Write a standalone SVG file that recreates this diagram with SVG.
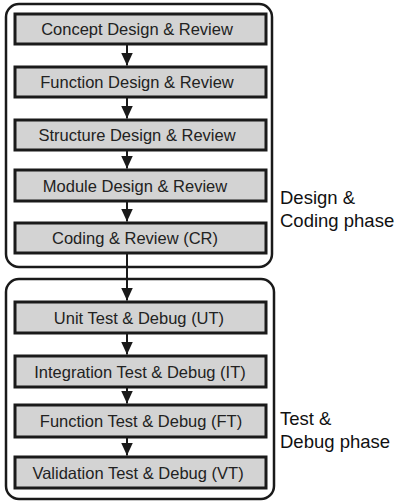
<svg xmlns="http://www.w3.org/2000/svg" width="399" height="504" viewBox="0 0 399 504">
<style>
.grp{fill:#fff;stroke:#1a1a1a;stroke-width:2.5}
.box{fill:#d3d3d3;stroke:#1a1a1a;stroke-width:3}
.t{font-family:"Liberation Sans",Arial,sans-serif;font-size:16.5px;fill:#222;text-anchor:middle}
.lbl{font-family:"Liberation Sans",Arial,sans-serif;font-size:18.5px;fill:#111}
.c{stroke:#1a1a1a;stroke-width:2;fill:none;marker-end:url(#ah)}
</style>
<defs>
<marker id="ah" markerWidth="14" markerHeight="12" refX="13" refY="6" orient="auto" markerUnits="userSpaceOnUse">
<path d="M0,0 L13,6 L0,12 Z" fill="#1a1a1a"/>
</marker>
</defs>
<g id="phase-design"><rect class="grp" x="6" y="4" width="266" height="263" rx="13"/><text class="lbl" x="280" y="204">Design &amp;</text><text class="lbl" x="280" y="227">Coding phase</text></g>
<g id="phase-test"><rect class="grp" x="6" y="279" width="268" height="220" rx="13"/><text class="lbl" x="280" y="425">Test &amp;</text><text class="lbl" x="280" y="448">Debug phase</text></g>
<g id="connectors">
<line class="c" x1="127" y1="45" x2="127" y2="65.5"/>
<line class="c" x1="127" y1="98" x2="127" y2="118.5"/>
<line class="c" x1="127" y1="151" x2="127" y2="168.5"/>
<line class="c" x1="127" y1="202" x2="127" y2="221.5"/>
<line class="c" x1="127" y1="254" x2="127" y2="300.5"/>
<line class="c" x1="127" y1="334" x2="127" y2="354.5"/>
<line class="c" x1="127" y1="388" x2="127" y2="403.5"/>
<line class="c" x1="127" y1="438" x2="127" y2="455.5"/>
</g>
<g id="n1"><rect class="box" x="15" y="14" width="251" height="30"/><text class="t" x="137" y="35">Concept Design &amp; Review</text></g>
<g id="n2"><rect class="box" x="15" y="67" width="251" height="30"/><text class="t" x="137" y="88">Function Design &amp; Review</text></g>
<g id="n3"><rect class="box" x="15" y="120" width="251" height="30"/><text class="t" x="137" y="141">Structure Design &amp; Review</text></g>
<g id="n4"><rect class="box" x="15" y="170" width="251" height="31"/><text class="t" x="135" y="191.5">Module Design &amp; Review</text></g>
<g id="n5"><rect class="box" x="15" y="223" width="251" height="30"/><text class="t" x="135" y="244">Coding &amp; Review (CR)</text></g>
<g id="n6"><rect class="box" x="15" y="302" width="251" height="31"/><text class="t" x="139" y="323.5">Unit Test &amp; Debug (UT)</text></g>
<g id="n7"><rect class="box" x="15" y="356" width="251" height="31"/><text class="t" x="140" y="377.5">Integration Test &amp; Debug (IT)</text></g>
<g id="n8"><rect class="box" x="15" y="405" width="251" height="32"/><text class="t" x="141" y="427">Function Test &amp; Debug (FT)</text></g>
<g id="n9"><rect class="box" x="15" y="457" width="251" height="31"/><text class="t" x="138" y="478.5">Validation Test &amp; Debug (VT)</text></g>
</svg>
